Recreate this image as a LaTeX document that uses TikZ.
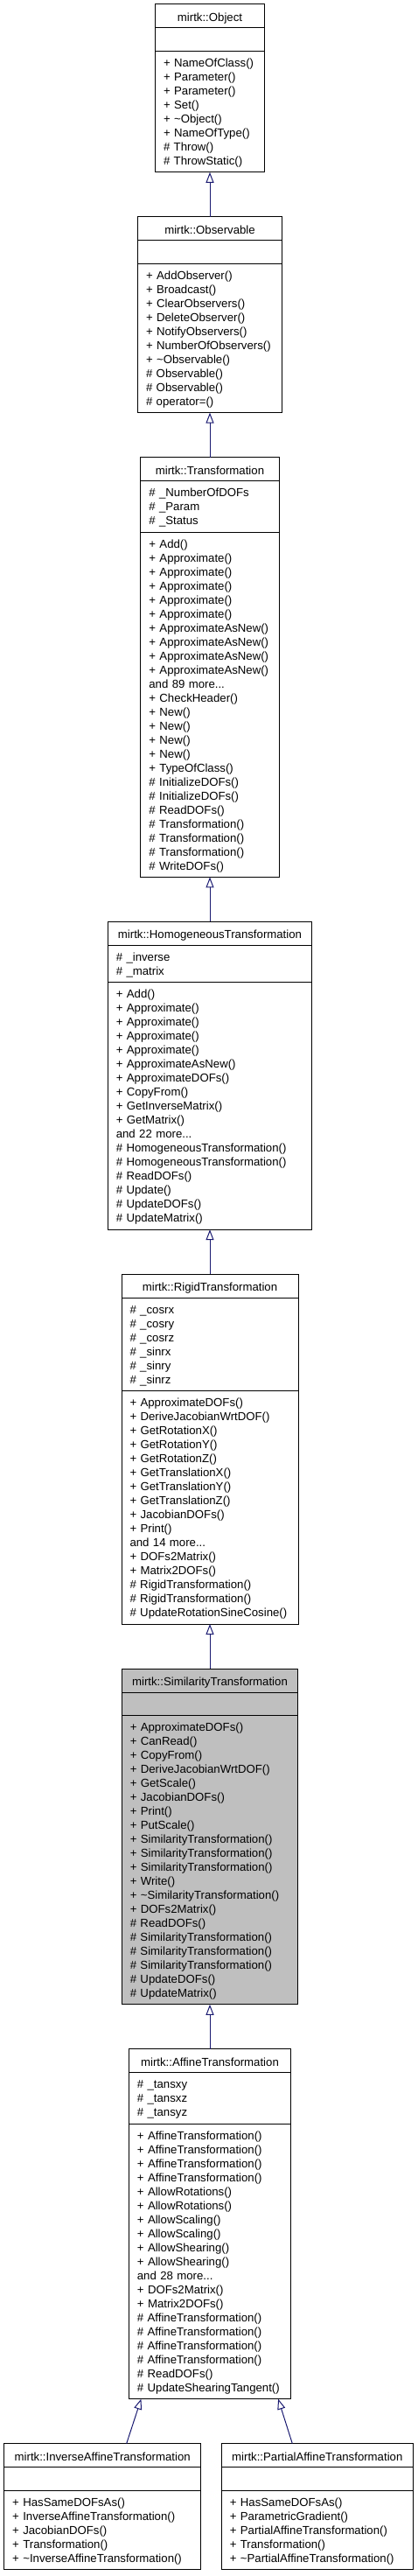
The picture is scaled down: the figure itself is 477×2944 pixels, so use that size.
\documentclass[tikz,border=0pt]{standalone}
\usepackage{fontspec}
\setmainfont{Liberation Sans}
\usetikzlibrary{arrows.meta,positioning}
\definecolor{edgeblue}{RGB}{25,25,112}
\definecolor{selgray}{RGB}{191,191,191}
\newcommand{\rowtop}{\rule{0pt}{12.8pt}}
\newcommand{\rowbot}{\rule[-3.2pt]{0pt}{3.2pt}}

\begin{document}
\begin{tikzpicture}[x=1pt, y=1pt, node distance=51pt,
    every node/.style={font=\fontsize{13.2}{16}\selectfont},
    head/.style={draw, line width=1pt, outer sep=0pt, inner xsep=9.5pt, inner ysep=5.2pt,
      minimum height=27pt, text height=12pt, text depth=0pt},
    part/.style={draw, line width=1pt, outer sep=0pt, inner xsep=9.5pt, inner ysep=5.2pt, align=left,
      execute at begin node=\rowtop, execute at end node=\rowbot},
    sel/.style={fill=selgray},
    arr/.style={-{Triangle[open, length=12pt, width=9pt]}, draw=edgeblue, line width=1pt}]
  \useasboundingbox (0,0) rectangle (477,-2944);

  % mirtk::Object
  \node[head, minimum width=125pt, anchor=north] (objt) at (240,-5) {mirtk::Object};
  \node[part, text width=106pt, below=0pt of objt] (obja) {};
  \node[part, text width=106pt, below=0pt of obja] (objm) {+ NameOfClass()\\+ Parameter()\\+ Parameter()\\+ Set()\\+ \textasciitilde Object()\\+ NameOfType()\\\# Throw()\\\# ThrowStatic()};

  % mirtk::Observable
  \node[head, minimum width=165pt, below=of objm] (obst) {mirtk::Observable};
  \node[part, text width=146pt, below=0pt of obst] (obsa) {};
  \node[part, text width=146pt, below=0pt of obsa] (obsm) {+ AddObserver()\\+ Broadcast()\\+ ClearObservers()\\+ DeleteObserver()\\+ NotifyObservers()\\+ NumberOfObservers()\\+ \textasciitilde Observable()\\\# Observable()\\\# Observable()\\\# operator=()};

  % mirtk::Transformation
  \node[head, minimum width=158.3pt, below=of obsm] (trft) {mirtk::Transformation};
  \node[part, text width=139.3pt, below=0pt of trft] (trfa) {\# \_NumberOfDOFs\\\# \_Param\\\# \_Status};
  \node[part, text width=139.3pt, below=0pt of trfa] (trfm) {+ Add()\\+ Approximate()\\+ Approximate()\\+ Approximate()\\+ Approximate()\\+ Approximate()\\+ ApproximateAsNew()\\+ ApproximateAsNew()\\+ ApproximateAsNew()\\+ ApproximateAsNew()\\and 89 more...\\+ CheckHeader()\\+ New()\\+ New()\\+ New()\\+ New()\\+ TypeOfClass()\\\# InitializeDOFs()\\\# InitializeDOFs()\\\# ReadDOFs()\\\# Transformation()\\\# Transformation()\\\# Transformation()\\\# WriteDOFs()};

  % mirtk::HomogeneousTransformation
  \node[head, minimum width=233.4pt, below=of trfm] (homt) {mirtk::HomogeneousTransformation};
  \node[part, text width=214.4pt, below=0pt of homt] (homa) {\# \_inverse\\\# \_matrix};
  \node[part, text width=214.4pt, below=0pt of homa] (homm) {+ Add()\\+ Approximate()\\+ Approximate()\\+ Approximate()\\+ Approximate()\\+ ApproximateAsNew()\\+ ApproximateDOFs()\\+ CopyFrom()\\+ GetInverseMatrix()\\+ GetMatrix()\\and 22 more...\\\# HomogeneousTransformation()\\\# HomogeneousTransformation()\\\# ReadDOFs()\\\# Update()\\\# UpdateDOFs()\\\# UpdateMatrix()};

  % mirtk::RigidTransformation
  \node[head, minimum width=202pt, below=of homm] (rigt) {mirtk::RigidTransformation};
  \node[part, text width=183pt, below=0pt of rigt] (riga) {\# \_cosrx\\\# \_cosry\\\# \_cosrz\\\# \_sinrx\\\# \_sinry\\\# \_sinrz};
  \node[part, text width=183pt, below=0pt of riga] (rigm) {+ ApproximateDOFs()\\+ DeriveJacobianWrtDOF()\\+ GetRotationX()\\+ GetRotationY()\\+ GetRotationZ()\\+ GetTranslationX()\\+ GetTranslationY()\\+ GetTranslationZ()\\+ JacobianDOFs()\\+ Print()\\and 14 more...\\+ DOFs2Matrix()\\+ Matrix2DOFs()\\\# RigidTransformation()\\\# RigidTransformation()\\\# UpdateRotationSineCosine()};

  % mirtk::SimilarityTransformation
  \node[head, sel, minimum width=201.5pt, below=of rigm] (simt) {mirtk::SimilarityTransformation};
  \node[part, sel, text width=182.5pt, below=0pt of simt] (sima) {};
  \node[part, sel, text width=182.5pt, below=0pt of sima] (simm) {+ ApproximateDOFs()\\+ CanRead()\\+ CopyFrom()\\+ DeriveJacobianWrtDOF()\\+ GetScale()\\+ JacobianDOFs()\\+ Print()\\+ PutScale()\\+ SimilarityTransformation()\\+ SimilarityTransformation()\\+ SimilarityTransformation()\\+ Write()\\+ \textasciitilde SimilarityTransformation()\\+ DOFs2Matrix()\\\# ReadDOFs()\\\# SimilarityTransformation()\\\# SimilarityTransformation()\\\# SimilarityTransformation()\\\# UpdateDOFs()\\\# UpdateMatrix()};

  % mirtk::AffineTransformation
  \node[head, minimum width=185.2pt, below=of simm] (afft) {mirtk::AffineTransformation};
  \node[part, text width=166.2pt, below=0pt of afft] (affa) {\# \_tansxy\\\# \_tansxz\\\# \_tansyz};
  \node[part, text width=166.2pt, below=0pt of affa] (affm) {+ AffineTransformation()\\+ AffineTransformation()\\+ AffineTransformation()\\+ AffineTransformation()\\+ AllowRotations()\\+ AllowRotations()\\+ AllowScaling()\\+ AllowScaling()\\+ AllowShearing()\\+ AllowShearing()\\and 28 more...\\+ DOFs2Matrix()\\+ Matrix2DOFs()\\\# AffineTransformation()\\\# AffineTransformation()\\\# AffineTransformation()\\\# AffineTransformation()\\\# ReadDOFs()\\\# UpdateShearingTangent()};

  % mirtk::InverseAffineTransformation
  \node[head, minimum width=225pt, below=of affm, xshift=-122.8pt] (invt) {mirtk::InverseAffineTransformation};
  \node[part, text width=206pt, below=0pt of invt] (inva) {};
  \node[part, text width=206pt, below=0pt of inva] (invm) {+ HasSameDOFsAs()\\+ InverseAffineTransformation()\\+ JacobianDOFs()\\+ Transformation()\\+ \textasciitilde InverseAffineTransformation()};

  % mirtk::PartialAffineTransformation
  \node[head, minimum width=219pt, below=of affm, xshift=122.8pt] (patt) {mirtk::PartialAffineTransformation};
  \node[part, text width=200pt, below=0pt of patt] (pata) {};
  \node[part, text width=200pt, below=0pt of pata] (patm) {+ HasSameDOFsAs()\\+ ParametricGradient()\\+ PartialAffineTransformation()\\+ Transformation()\\+ \textasciitilde PartialAffineTransformation()};

  \draw[arr] (obst) -- (objm);
  \draw[arr] (trft) -- (obsm);
  \draw[arr] (homt) -- (trfm);
  \draw[arr] (rigt) -- (homm);
  \draw[arr] (simt) -- (rigm);
  \draw[arr] (afft) -- (simm);
  \draw[arr] ([xshift=27.5pt]invt.north) -- ([xshift=14pt]affm.south west);
  \draw[arr] ([xshift=-28.5pt]patt.north) -- ([xshift=-14.5pt]affm.south east);
\end{tikzpicture}
\end{document}
